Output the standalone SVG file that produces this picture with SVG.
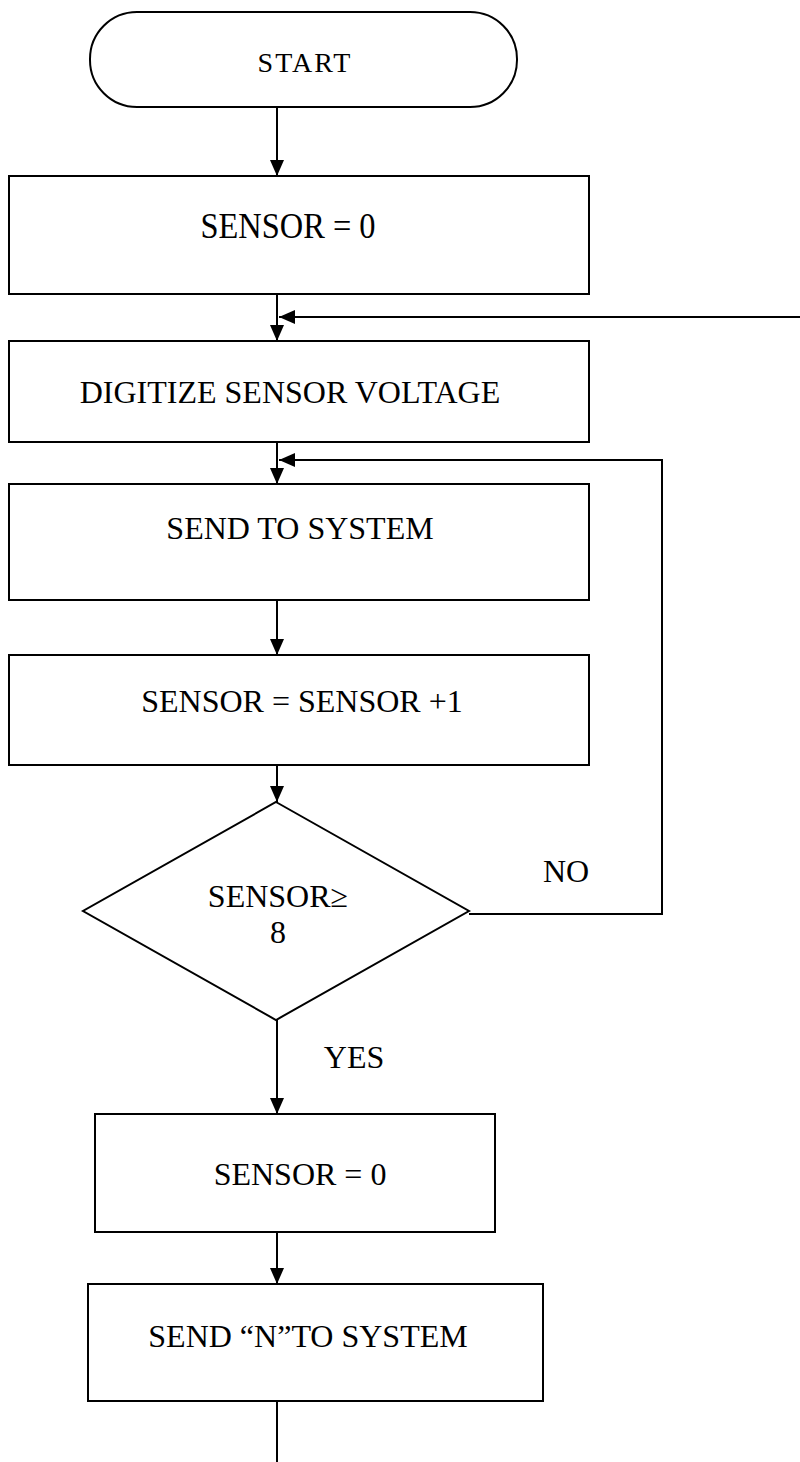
<svg xmlns="http://www.w3.org/2000/svg" width="800" height="1462" viewBox="0 0 800 1462">
<style>
.n{fill:#fff;stroke:#000;stroke-width:2}
.t{font-family:"Liberation Serif","Times New Roman",serif;font-size:32px;fill:#000;text-anchor:middle}
.c{fill:none;stroke:#000;stroke-width:2}
</style>
<defs>
<marker id="ah" viewBox="0 0 16 14" refX="16" refY="7" markerWidth="16" markerHeight="14" markerUnits="userSpaceOnUse" orient="auto">
<path d="M0,0 L16,7 L0,14 Z" fill="#000"/>
</marker>
</defs>
<rect width="800" height="1462" fill="#fff"/>
<g id="connectors">
<line class="c" x1="277" y1="107" x2="277" y2="176" marker-end="url(#ah)"/>
<line class="c" x1="277" y1="294" x2="277" y2="341" marker-end="url(#ah)"/>
<line class="c" x1="800" y1="317" x2="279" y2="317" marker-end="url(#ah)"/>
<line class="c" x1="277" y1="442" x2="277" y2="484" marker-end="url(#ah)"/>
<polyline class="c" points="469,914 662,914 662,460 279,460" marker-end="url(#ah)"/>
<line class="c" x1="277" y1="600" x2="277" y2="655" marker-end="url(#ah)"/>
<line class="c" x1="277" y1="765" x2="277" y2="802" marker-end="url(#ah)"/>
<line class="c" x1="277" y1="1020" x2="277" y2="1114" marker-end="url(#ah)"/>
<line class="c" x1="277" y1="1232" x2="277" y2="1284" marker-end="url(#ah)"/>
<line class="c" x1="277" y1="1401" x2="277" y2="1462"/>
<text class="t" x="566" y="882">NO</text>
<text class="t" x="354" y="1068">YES</text>
</g>
<g id="start">
<rect class="n" x="90" y="12" width="427" height="95" rx="47" ry="47"/>
<text class="t" x="305" y="72" style="font-size:28px;letter-spacing:2px">START</text>
</g>
<g id="init">
<rect class="n" x="9" y="176" width="580" height="118"/>
<text class="t" x="288" y="238" style="font-size:36px" textLength="175" lengthAdjust="spacingAndGlyphs">SENSOR = 0</text>
</g>
<g id="digitize">
<rect class="n" x="9" y="341" width="580" height="101"/>
<text class="t" x="290" y="403">DIGITIZE SENSOR VOLTAGE</text>
</g>
<g id="send">
<rect class="n" x="9" y="484" width="580" height="116"/>
<text class="t" x="300" y="539">SEND TO SYSTEM</text>
</g>
<g id="increment">
<rect class="n" x="9" y="655" width="580" height="110"/>
<text class="t" x="302" y="712">SENSOR = SENSOR +1</text>
</g>
<g id="decision">
<polygon class="n" points="276,802 469,911 276,1020 83,911"/>
<text class="t" x="278" y="907">SENSOR≥</text>
<text class="t" x="278" y="943">8</text>
</g>
<g id="reset">
<rect class="n" x="95" y="1114" width="400" height="118"/>
<text class="t" x="300" y="1185">SENSOR = 0</text>
</g>
<g id="sendN">
<rect class="n" x="88" y="1284" width="455" height="117"/>
<text class="t" x="308" y="1347">SEND “N”TO SYSTEM</text>
</g>
</svg>
